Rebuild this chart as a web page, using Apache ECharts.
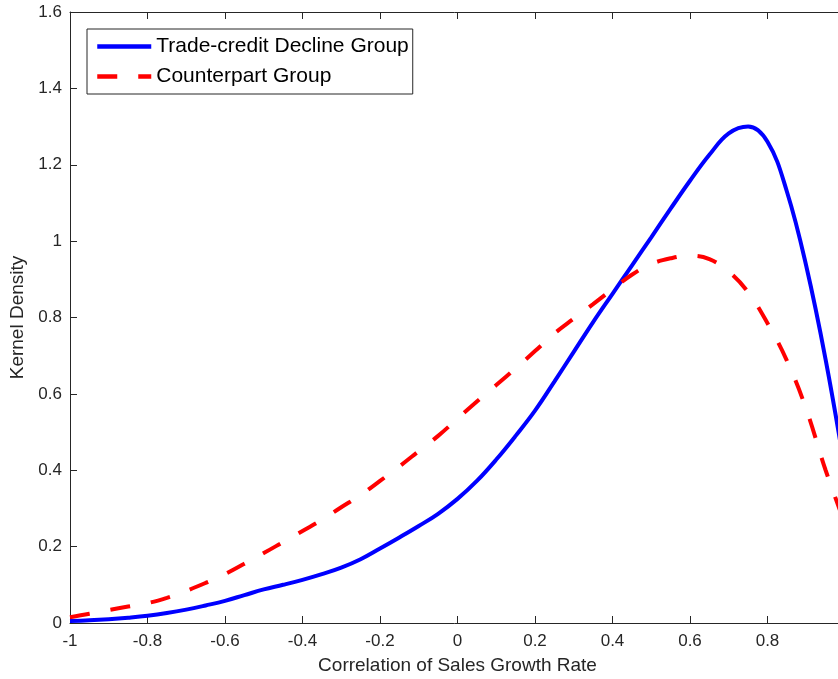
<!DOCTYPE html>
<html>
<head>
<meta charset="utf-8">
<script src="https://cdn.jsdelivr.net/npm/echarts@6/dist/echarts.min.js"></script>
<style>html,body{margin:0;padding:0;background:#fff;}#c{width:838px;height:679px;}</style>
</head>
<body>
<div id="c"></div>
<script>
const xValues = [-1.00,-0.95,-0.90,-0.85,-0.80,-0.75,-0.70,-0.65,-0.60,-0.55,-0.50,-0.45,-0.40,-0.35,-0.30,-0.25,-0.20,-0.15,-0.10,-0.05,0.00,0.05,0.10,0.15,0.20,0.25,0.30,0.35,0.40,0.45,0.50,0.55,0.60,0.65,0.70,0.75,0.80,0.85,0.90,0.95,1.00];
const declineGroup = [0.005,0.007,0.010,0.014,0.019,0.026,0.035,0.046,0.058,0.073,0.088,0.100,0.113,0.128,0.145,0.167,0.195,0.224,0.254,0.286,0.325,0.372,0.428,0.490,0.556,0.632,0.710,0.788,0.862,0.936,1.010,1.085,1.158,1.226,1.282,1.300,1.260,1.130,0.935,0.690,0.400];
const counterpartGroup = [0.015,0.024,0.034,0.043,0.052,0.066,0.084,0.105,0.128,0.155,0.183,0.212,0.241,0.270,0.303,0.335,0.372,0.410,0.450,0.490,0.535,0.580,0.623,0.667,0.712,0.758,0.797,0.835,0.874,0.912,0.940,0.955,0.962,0.953,0.920,0.866,0.785,0.687,0.560,0.400,0.260];
const seriesNames = ['Trade-credit Decline Group', 'Counterpart Group'];
const xTicks = [-1, -0.8, -0.6, -0.4, -0.2, 0, 0.2, 0.4, 0.6, 0.8, 1];
const yTicks = [0, 0.2, 0.4, 0.6, 0.8, 1, 1.2, 1.4, 1.6];

const axisColor = '#262626';
const font = 'Liberation Sans, Arial, Helvetica, sans-serif';
const pairs = ys => xValues.map((x, i) => [x, ys[i]]);
const fmt = v => String(Math.round(v * 10) / 10);

const baseAxis = {
  axisLine: { show: true, onZero: false, lineStyle: { color: axisColor, width: 1 } },
  axisTick: { show: true, inside: true, length: 7, lineStyle: { color: axisColor, width: 1 } },
  splitLine: { show: false }
};

const chart = echarts.init(document.getElementById('c'), null, { renderer: 'canvas' });
chart.setOption({
  animation: false,
  backgroundColor: '#ffffff',
  grid: { left: 70, top: 12, width: 775, height: 611, containLabel: false, outerBoundsMode: 'none' },
  legend: {
    orient: 'vertical',
    left: 87, top: 29,
    data: seriesNames,
    itemWidth: 54, itemHeight: 14, itemGap: 9,
    padding: [7, 4, 7, 8],
    borderColor: axisColor, borderWidth: 1,
    backgroundColor: '#ffffff',
    itemStyle: { opacity: 0 },
    lineStyle: { width: 4.5 },
    textStyle: { fontFamily: font, fontSize: 21, color: '#000000' }
  },
  xAxis: [
    Object.assign({}, baseAxis, {
      type: 'value', min: -1, max: 1, interval: 0.2, position: 'bottom',
      name: 'Correlation of Sales Growth Rate', nameLocation: 'middle', nameGap: 33,
      nameTextStyle: { fontFamily: font, fontSize: 19, color: axisColor },
      axisLabel: { margin: 10, fontFamily: font, fontSize: 17, color: axisColor, formatter: fmt, showMaxLabel: true, showMinLabel: true }
    }),
    Object.assign({}, baseAxis, {
      type: 'value', min: -1, max: 1, interval: 0.2, position: 'top',
      axisLabel: { show: false }
    })
  ],
  yAxis: [
    Object.assign({}, baseAxis, {
      type: 'value', min: 0, max: 1.6, interval: 0.2, position: 'left',
      name: 'Kernel Density', nameLocation: 'middle', nameGap: 38,
      nameTextStyle: { fontFamily: font, fontSize: 19, color: axisColor },
      axisLabel: { margin: 8, fontFamily: font, fontSize: 17, color: axisColor, formatter: fmt }
    }),
    Object.assign({}, baseAxis, {
      type: 'value', min: 0, max: 1.6, interval: 0.2, position: 'right',
      axisLabel: { show: false }
    })
  ],
  series: [
    {
      name: seriesNames[0], type: 'line', xAxisIndex: 0, yAxisIndex: 0,
      data: pairs(declineGroup), smooth: 0.4, symbol: 'none',
      lineStyle: { color: '#0000ff', width: 4 }, itemStyle: { color: '#0000ff' }
    },
    {
      name: seriesNames[1], type: 'line', xAxisIndex: 0, yAxisIndex: 0,
      data: pairs(counterpartGroup), smooth: 0.4, symbol: 'none',
      lineStyle: { color: '#ff0000', width: 4, type: [20, 21] }, itemStyle: { color: '#ff0000' }
    }
  ]
});
</script>
</body>
</html>
